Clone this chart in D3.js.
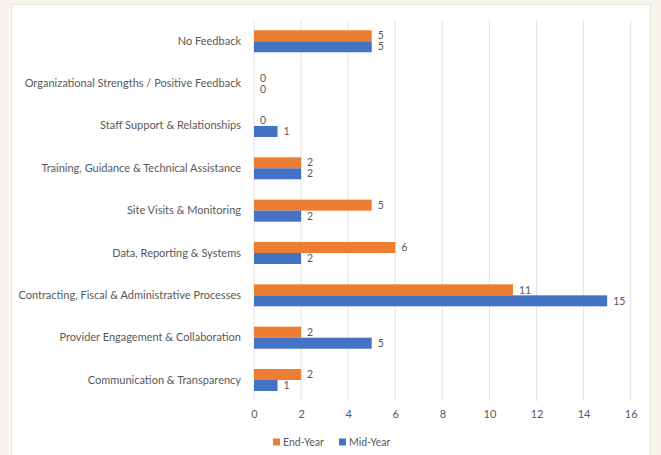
<!DOCTYPE html>
<html><head><meta charset="utf-8">
<script src="https://cdn.jsdelivr.net/npm/d3@7"></script>
<style>
html,body{margin:0;padding:0;background:#f8f4ee;}
svg{display:block;}
text{font-family:Lato,"Open Sans",sans-serif;fill:#595959;}
</style></head>
<body>
<svg id="c" width="661" height="455"></svg>
<script>
const categories = [
  "No Feedback",
  "Organizational Strengths / Positive Feedback",
  "Staff Support & Relationships",
  "Training, Guidance & Technical Assistance",
  "Site Visits & Monitoring",
  "Data, Reporting & Systems",
  "Contracting, Fiscal & Administrative Processes",
  "Provider Engagement & Collaboration",
  "Communication & Transparency"
];
const endYear = [5, 0, 0, 2, 5, 6, 11, 2, 2];
const midYear = [5, 0, 1, 2, 2, 2, 15, 5, 1];
const seriesNames = ["End-Year", "Mid-Year"];
const seriesColors = ["#ED7D31", "#4472C4"];
const xTicks = [0, 2, 4, 6, 8, 10, 12, 14, 16];

(function () {
const svg = d3.select("#c");
svg.append("rect").attr("x", 11.5).attr("y", 4.5).attr("width", 639).attr("height", 460)
  .attr("fill", "#fff").attr("stroke", "#e8e5e0").attr("stroke-width", 1);

const pLeft = 254, pRight = 630.7, pTop = 20.1, pBottom = 401.2;
const x = d3.scaleLinear().domain([0, 16]).range([pLeft, pRight]);
const y = d3.scaleBand().domain(categories).range([pTop, pBottom]).paddingInner(0.48).paddingOuter(0.24);
const series = [endYear, midYear];
const ySub = d3.scaleBand().domain([0, 1]).range([0, y.bandwidth()]);

// gridlines
svg.append("g").selectAll("line").data(xTicks).join("line")
  .attr("x1", d => x(d)).attr("x2", d => x(d))
  .attr("y1", pTop).attr("y2", pBottom)
  .attr("stroke", "#e3e3e3").attr("stroke-width", 1);

// axis labels
const xAxis = d3.axisBottom(x).tickValues(xTicks).tickSize(0).tickPadding(0);
const gx = svg.append("g").attr("transform", `translate(0,${pBottom + 9})`).call(xAxis);
gx.select(".domain").remove();
gx.selectAll("text").attr("font-size", 11).attr("fill", "#595959")
  .style("font-family", "Lato,'Open Sans',sans-serif");

const yAxis = d3.axisLeft(y).tickSize(0).tickPadding(0);
const gy = svg.append("g").attr("transform", `translate(${pLeft - 13},0)`).call(yAxis);
gy.select(".domain").remove();
gy.selectAll("text").attr("font-size", 11).attr("fill", "#595959")
  .style("font-family", "Lato,'Open Sans',sans-serif");

// bars
series.forEach((vals, si) => {
  const g = svg.append("g");
  g.selectAll("rect").data(vals).join("rect")
    .attr("x", x(0))
    .attr("y", (d, i) => y(categories[i]) + ySub(si))
    .attr("width", d => x(d) - x(0))
    .attr("height", ySub.bandwidth())
    .attr("fill", seriesColors[si]);
  g.selectAll("text").data(vals).join("text")
    .attr("x", d => x(d) + 6)
    .attr("y", (d, i) => y(categories[i]) + ySub(si) + ySub.bandwidth() / 2)
    .attr("dy", "0.35em")
    .attr("font-size", 10.5)
    .text(d => d);
});

// legend
const legend = svg.append("g").attr("transform", "translate(273,442)");
const lx = [0, 66];
seriesNames.forEach((n, i) => {
  legend.append("rect").attr("x", lx[i]).attr("y", -3.5).attr("width", 7).attr("height", 7).attr("fill", seriesColors[i]);
  legend.append("text").attr("x", lx[i] + 10).attr("y", 0).attr("dy", "0.35em").attr("font-size", 10.5).text(n);
});
})();
</script>
</body></html>
